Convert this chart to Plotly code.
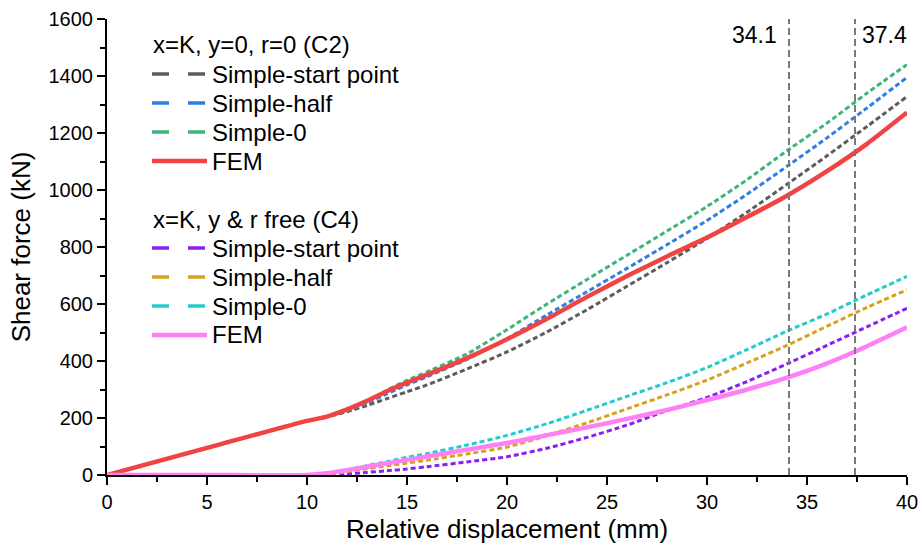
import plotly.graph_objects as go

# Relative displacement (mm) at which each curve is sampled
disp = [0, 5, 10, 11, 12, 13, 14, 15, 16, 18, 20, 22, 24, 26, 28, 30, 32, 34, 36, 38, 40]

# Case C2: x=K, y=0, r=0  -- shear force (kN)
c2_start = [0, 95, 190, 204, 222, 244, 268, 292, 316, 372, 432, 502, 580, 662, 745, 830, 922, 1020, 1120, 1223, 1328]
c2_half = [0, 95, 190, 205, 226, 253, 285, 316, 345, 406, 478, 562, 643, 725, 808, 893, 985, 1083, 1183, 1288, 1395]
c2_zero = [0, 95, 190, 205, 227, 256, 298, 332, 362, 425, 510, 600, 686, 771, 856, 942, 1036, 1138, 1235, 1340, 1440]
c2_fem = [0, 95, 190, 205, 230, 260, 294, 324, 352, 410, 476, 548, 625, 698, 767, 833, 905, 980, 1066, 1162, 1272]

# Case C4: x=K, y & r free -- shear force (kN)
c4_start = [0, 0, 0, 1, 4, 9, 15, 21, 29, 46, 64, 94, 132, 175, 226, 272, 328, 390, 455, 520, 585]
c4_half = [0, 0, 0, 3, 12, 22, 32, 42, 52, 74, 98, 138, 183, 232, 281, 333, 393, 455, 522, 588, 650]
c4_zero = [0, 0, 0, 5, 18, 33, 47, 62, 75, 105, 139, 180, 227, 276, 324, 377, 440, 505, 565, 632, 697]
c4_fem = [0, 0, 0, 6, 17, 29, 41, 53, 65, 89, 112, 140, 167, 197, 228, 263, 300, 342, 392, 452, 518]

series_names = ["Simple-start point", "Simple-half", "Simple-0", "FEM"]
group_titles = ["x=K, y=0, r=0 (C2)", "x=K, y & r free (C4)"]
c2_colors = ["#5c5c5c", "#2f7de1", "#3db57a", "#f04444"]
c4_colors = ["#8a1ff2", "#d6a21c", "#22cccc", "#ff80f6"]

# Reference displacements marked by vertical lines
marker_disp = [34.1, 37.4]

FONT = "Arial, Liberation Sans, sans-serif"

fig = go.Figure()

groups = [
    (group_titles[0], [c2_start, c2_half, c2_zero, c2_fem], c2_colors),
    (group_titles[1], [c4_start, c4_half, c4_zero, c4_fem], c4_colors),
]

for title, values, colors in groups:
    for name, ys, col in zip(series_names, values, colors):
        solid = name == "FEM"
        fig.add_trace(go.Scatter(
            x=disp, y=ys, mode="lines", name=name,
            legendgroup=title, showlegend=False,
            line=dict(color=col, width=4.5 if solid else 3,
                      dash="solid" if solid else "5px,3px",
                      shape="spline", smoothing=0.6),
        ))

# Vertical reference lines with their labels
for i, xv in enumerate(marker_disp):
    fig.add_shape(type="line", xref="x", yref="paper", x0=xv, x1=xv, y0=0, y1=1,
                  line=dict(color="#7a7a7a", width=2, dash="7px,4px"), layer="above")
    left = i == 0
    fig.add_annotation(x=xv, y=1545, xref="x", yref="y", text=f"{xv}",
                       showarrow=False, xanchor="right" if left else "left",
                       xshift=-10 if left else 5, yanchor="middle",
                       font=dict(family=FONT, size=23, color="black"))

# Plot-area geometry (pixels) used to place the legend block
PL, PR, PT, PB = 107, 907, 19, 475


def px_x(p):
    return (p - PL) / (PR - PL)


def px_y(p):
    return (PB - p) / (PB - PT)


title_rows = [45, 219]
row_step = 29
for gi, (title, values, colors) in enumerate(groups):
    ty = title_rows[gi]
    fig.add_annotation(xref="paper", yref="paper", x=px_x(151), y=px_y(ty),
                       text=title, showarrow=False, xanchor="left", yanchor="middle",
                       font=dict(family=FONT, size=24, color="black"))
    for k, (name, col) in enumerate(zip(series_names, colors)):
        ry = ty + row_step * (k + 1)
        solid = name == "FEM"
        fig.add_shape(type="line", xref="paper", yref="paper",
                      x0=px_x(152), x1=px_x(207), y0=px_y(ry), y1=px_y(ry),
                      line=dict(color=col, width=4.5 if solid else 3.5,
                                dash="solid" if solid else "17px,19px"))
        fig.add_annotation(xref="paper", yref="paper", x=px_x(210), y=px_y(ry),
                           text=name, showarrow=False, xanchor="left", yanchor="middle",
                           font=dict(family=FONT, size=24, color="black"))

axis_common = dict(
    showline=True, linecolor="black", linewidth=2,
    ticks="outside", ticklen=8, tickwidth=2, tickcolor="black",
    showgrid=False, zeroline=False,
    tickfont=dict(family=FONT, size=20, color="black"),
    layer="below traces",
)

fig.update_xaxes(
    range=[0, 40], dtick=5, tick0=0,
    minor=dict(dtick=2.5, ticks="outside", ticklen=5, tickwidth=2, tickcolor="black"),
    title=dict(text="Relative displacement (mm)", standoff=8,
               font=dict(family=FONT, size=26, color="black")),
    **axis_common,
)
fig.update_yaxes(
    range=[0, 1600], dtick=200, tick0=0,
    minor=dict(dtick=100, ticks="outside", ticklen=5, tickwidth=2, tickcolor="black"),
    title=dict(text="Shear force (kN)", standoff=10,
               font=dict(family=FONT, size=26, color="black")),
    **axis_common,
)

fig.update_layout(
    width=922, height=547,
    margin=dict(l=PL, r=922 - PR, t=PT, b=547 - PB, autoexpand=False),
    paper_bgcolor="white", plot_bgcolor="white",
    showlegend=False,
    font=dict(family=FONT, color="black"),
)

fig.write_html("out.html")
